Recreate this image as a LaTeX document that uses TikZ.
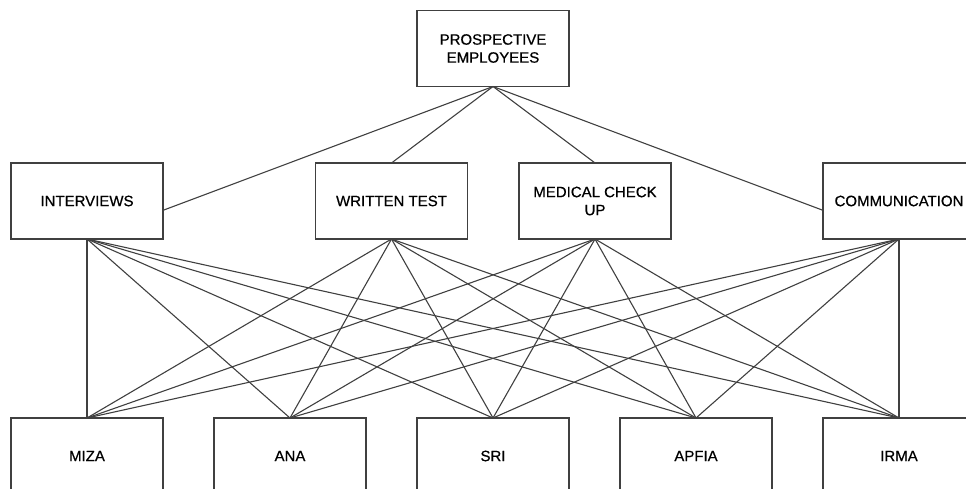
\documentclass[tikz,border=0pt]{standalone}
\usepackage{fontspec}
\setmainfont{Liberation Sans}
\newfontfamily\boxfont[FakeBold=0.6]{Liberation Sans}
\usetikzlibrary{positioning}
\definecolor{linegray}{HTML}{404040}

\begin{document}
\begin{tikzpicture}[
  box/.style={draw=linegray, line width=1.2pt, align=center, inner sep=2pt, outer sep=0pt,
    minimum width=152pt, minimum height=76pt, font=\boxfont\fontsize{15}{18}\selectfont},
  link/.style={draw=linegray, line width=1.1pt},
]
  \useasboundingbox (0,0) rectangle (966pt,-488pt);

  \node[box] (prospective) at (493pt,-48.5pt) {PROSPECTIVE\\EMPLOYEES};

  \node[box] (interviews) at (87pt,-201pt) {INTERVIEWS};
  \node[box, right=152.5pt of interviews] (written) {WRITTEN TEST};
  \node[box, right=51.5pt of written] (medical) {MEDICAL CHECK\\UP};
  \node[box, right=152pt of medical] (communication) {COMMUNICATION};

  \node[box] (miza) at (87pt,-456pt) {MIZA};
  \node[box, right=51pt of miza] (ana) {ANA};
  \node[box, right=51pt of ana] (sri) {SRI};
  \node[box, right=51pt of sri] (apfia) {APFIA};
  \node[box, right=51pt of apfia] (irma) {IRMA};

  \draw[link] (prospective.south) -- (interviews.-7);
  \draw[link] (prospective.south) -- (written.north);
  \draw[link] (prospective.south) -- (medical.north);
  \draw[link] (prospective.south) -- (communication.187);

  \foreach \crit in {interviews, written, medical, communication}
    \foreach \cand in {miza, ana, sri, apfia, irma}
      \draw[link] (\crit.south) -- (\cand.north);
\end{tikzpicture}
\end{document}
